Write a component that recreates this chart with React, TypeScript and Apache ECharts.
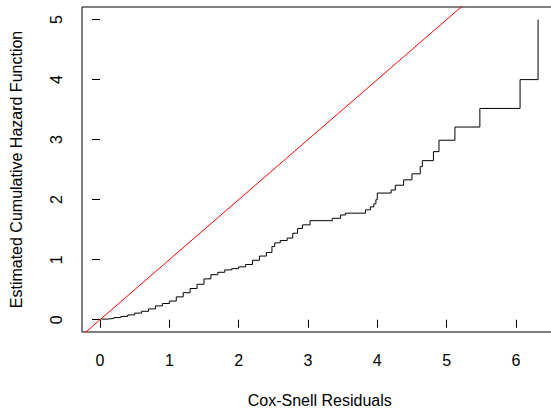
import React, { useEffect, useRef } from "react";
import * as echarts from "echarts";

// Cox-Snell residual jump times and estimated cumulative hazard (step function)
const residualTimes = [
  0.02, 0.1, 0.2, 0.3, 0.4, 0.5, 0.6, 0.7, 0.8, 0.9, 1.0, 1.1, 1.2, 1.3, 1.4, 1.5,
  1.6, 1.7, 1.8, 1.9, 2.0, 2.1, 2.2, 2.3, 2.4, 2.48, 2.52, 2.6, 2.7, 2.78, 2.85,
  2.92, 3.03, 3.35, 3.47, 3.54, 3.83, 3.9, 3.95, 3.98, 4.0, 4.2, 4.26, 4.38, 4.5,
  4.62, 4.65, 4.81, 4.89, 5.12, 5.48, 6.06, 6.32,
];
const cumHazard = [
  0.01, 0.02, 0.035, 0.055, 0.08, 0.11, 0.14, 0.18, 0.23, 0.27, 0.31, 0.38, 0.45,
  0.52, 0.59, 0.68, 0.75, 0.79, 0.83, 0.85, 0.88, 0.92, 0.99, 1.06, 1.12, 1.22,
  1.28, 1.32, 1.36, 1.44, 1.52, 1.58, 1.65, 1.69, 1.745, 1.775, 1.83, 1.88, 1.93,
  2.0, 2.11, 2.16, 2.24, 2.33, 2.43, 2.55, 2.65, 2.8, 2.99, 3.21, 3.52, 4.0, 5.0,
];

// Reference line y = x
const refLineX = [-0.3, 5.5];

const xTickValues = [0, 1, 2, 3, 4, 5, 6];
const yTickValues = [0, 1, 2, 3, 4, 5];

const xTitle = "Cox-Snell Residuals";
const yTitle = "Estimated Cumulative Hazard Function";

const FONT = "'Liberation Sans', Arial, sans-serif";

export default function App() {
  const ref = useRef<HTMLDivElement>(null);

  useEffect(() => {
    if (!ref.current) return;
    const chart = echarts.init(ref.current, null, { renderer: "svg" });
    const hazardData = residualTimes.map((t, i) => [t, cumHazard[i]]);
    const refData = refLineX.map((v) => [v, v]);

    chart.setOption({
      animation: false,
      backgroundColor: "#ffffff",
      grid: {
        show: true,
        left: 80,
        top: 7,
        width: 477.5,
        height: 325,
        borderColor: "#000",
        borderWidth: 1,
        backgroundColor: "transparent",
        containLabel: false,
      },
      xAxis: {
        type: "value",
        min: -0.26,
        max: 6.6,
        name: xTitle,
        nameLocation: "middle",
        nameGap: 60,
        nameTextStyle: { fontSize: 16, color: "#000", fontFamily: FONT },
        axisLine: { show: false },
        splitLine: { show: false },
        axisTick: {
          show: true,
          customValues: xTickValues,
          length: 8,
          lineStyle: { color: "#000", width: 1 },
        },
        axisLabel: {
          customValues: xTickValues,
          margin: 20,
          fontSize: 16,
          color: "#000",
          fontFamily: FONT,
        },
      },
      yAxis: {
        type: "value",
        min: -0.205,
        max: 5.21,
        name: yTitle,
        nameLocation: "middle",
        nameGap: 58,
        nameTextStyle: { fontSize: 16, color: "#000", fontFamily: FONT },
        axisLine: { show: false },
        splitLine: { show: false },
        axisTick: {
          show: true,
          customValues: yTickValues,
          length: 8,
          lineStyle: { color: "#000", width: 1 },
        },
        axisLabel: {
          customValues: yTickValues,
          rotate: 90,
          margin: 18,
          fontSize: 16,
          color: "#000",
          fontFamily: FONT,
        },
      },
      series: [
        {
          type: "line",
          data: refData,
          showSymbol: false,
          symbol: "none",
          clip: true,
          lineStyle: { color: "#ff0000", width: 1 },
          z: 2,
        },
        {
          type: "line",
          data: hazardData,
          step: "end",
          showSymbol: false,
          symbol: "none",
          clip: true,
          lineStyle: { color: "#000", width: 1 },
          z: 3,
        },
      ],
    });

    return () => chart.dispose();
  }, []);

  return (
    <div
      style={{
        position: "fixed",
        left: 0,
        top: 0,
        width: 551,
        height: 415,
        overflow: "hidden",
        background: "#fff",
      }}
    >
      <div ref={ref} style={{ width: 600, height: 415 }} />
    </div>
  );
}
